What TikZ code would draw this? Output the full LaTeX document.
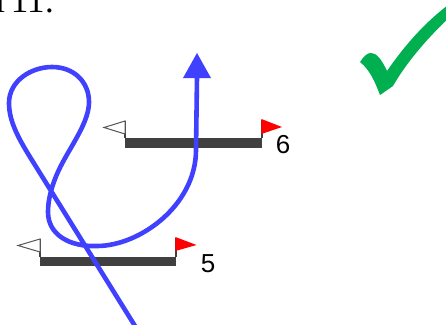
\documentclass[tikz,border=0pt]{standalone}
\usepackage{fontspec}
\setmainfont{Liberation Sans}
\newfontfamily\serifface{Liberation Serif}
\usetikzlibrary{arrows.meta}
\definecolor{lineblue}{RGB}{64,64,255}
\definecolor{checkgreen}{RGB}{0,176,80}
\definecolor{bargray}{RGB}{64,64,64}
\definecolor{flaggray}{RGB}{85,85,85}
\begin{document}
\begin{tikzpicture}[x=1pt,y=-1pt,
  bar/.style={fill=bargray},
  pole/.style={draw=bargray, line width=1.2pt},
  startflag/.style={draw=flaggray, fill=white, line width=1pt, line join=miter},
  endflag/.style={fill=red},
  lbl/.style={font=\fontsize{26}{26}\selectfont, inner sep=0pt},
  route/.style={draw=lineblue, line width=4.6pt, line cap=round, line join=round}]
\useasboundingbox (0,0) rectangle (446,324);
% header (cut off)
\node[anchor=base west, inner sep=0pt, font=\serifface\fontsize{35}{35}\selectfont] (hdr) at (-4,12.5) {r\kern3pt 11:};
% check mark
\fill[checkgreen] (360,62) .. controls (364,56) and (367,53) .. (371,53)
  .. controls (376,53) and (381,58) .. (387,71)
  .. controls (405,45) and (425,22) .. (452,2) -- (452,15)
  .. controls (425,40) and (405,65) .. (393,86) -- (380,95)
  .. controls (375,82) and (370,70) .. (360,62) -- cycle;
% bar 6
\fill[bar] (125,138) rectangle (262,148);
\draw[pole] (125,121) -- (125,138);
\draw[startflag] (125,121) -- (104,127.5) -- (125,134) -- cycle;
\draw[pole] (262,120) -- (262,138);
\fill[endflag] (261.4,119) -- (282,127) -- (261.4,134) -- cycle;
\node[lbl] (l6) at (283,145) {6};
% bar 5
\fill[bar] (40,257) rectangle (176,266);
\draw[pole] (40,239) -- (40,257);
\draw[startflag] (40,239) -- (18,245.5) -- (40,252) -- cycle;
\draw[pole] (176,238) -- (176,257);
\fill[endflag] (175.4,237) -- (196.5,245) -- (175.4,251) -- cycle;
\node[lbl] (l5) at (208,264) {5};
% blue route
\coordinate (start) at (135,326);
\coordinate (tipbase) at (197,77);
\draw[route] (start) -- (30,157)
  .. controls (17,136) and (9,120) .. (9,103)
  .. controls (9,81) and (31,67) .. (52,67)
  .. controls (74,67) and (89,82) .. (89,102)
  .. controls (89,120) and (75,140) .. (64,160)
  .. controls (55,176) and (48,195) .. (48,212)
  .. controls (48,235) and (70,247) .. (97,246)
  .. controls (140,246) and (196,205) .. (196,150)
  -- (tipbase);
\fill[lineblue] (183,78) -- (197,53) -- (211,78) -- cycle;
\end{tikzpicture}
\end{document}
